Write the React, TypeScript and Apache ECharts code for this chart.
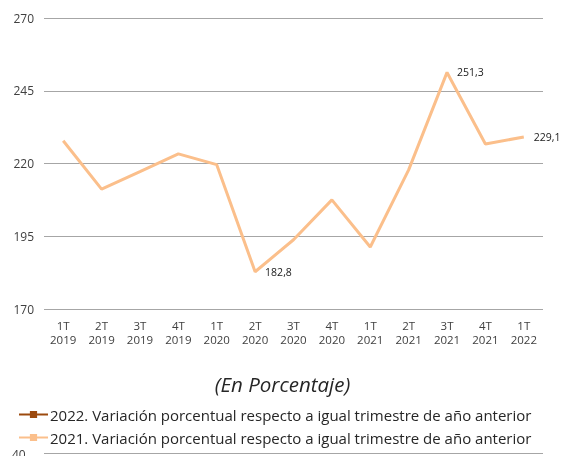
import React, { useEffect, useRef } from "react";
import * as echarts from "echarts";

const categories = [
  "1T\n2019", "2T\n2019", "3T\n2019", "4T\n2019",
  "1T\n2020", "2T\n2020", "3T\n2020", "4T\n2020",
  "1T\n2021", "2T\n2021", "3T\n2021", "4T\n2021",
  "1T\n2022",
];
const values2021 = [227.8, 211.2, 217.2, 223.3, 219.6, 182.8, 193.8, 207.5, 191.3, 217.8, 251.3, 226.7, 229.1];
const values2022: number[] = [];
const labeledIndexes = [5, 10, 12];
const seriesNames = [
  "2022. Variación porcentual respecto a igual trimestre de año anterior",
  "2021. Variación porcentual respecto a igual trimestre de año anterior",
];
const subtitle = "(En Porcentaje)";
const nextChartTick = "40";

export default function App() {
  const ref = useRef<HTMLDivElement>(null);
  useEffect(() => {
    if (!ref.current) return;
    const chart = echarts.init(ref.current, undefined, { renderer: "svg" });
    const data2021 = values2021.map((v, i) => ({
      value: v,
      symbolSize: 0,
      label: {
        show: labeledIndexes.includes(i),
        position: "right",
        distance: 10,
        formatter: (p: any) => p.value.toFixed(1).replace(".", ","),
        fontFamily: "Open Sans",
        fontSize: 10.5,
        color: "#1a1a1a",
      },
    }));
    chart.setOption({
      animation: false,
      grid: { left: 44, right: 22, top: 18, bottom: 147, containLabel: false },
      xAxis: {
        type: "category",
        data: categories,
        boundaryGap: true,
        axisLine: { show: false },
        axisTick: { show: false },
        axisLabel: {
          margin: 9,
          fontFamily: "Open Sans",
          fontSize: 11.5,
          lineHeight: 14,
          color: "#404040",
          interval: 0,
        },
      },
      yAxis: {
        type: "value",
        min: 170,
        max: 270,
        interval: 25,
        axisLine: { show: false },
        axisTick: { show: false },
        splitLine: { lineStyle: { color: "#a6a6a6", width: 1 } },
        axisLabel: {
          margin: 10,
          fontFamily: "Open Sans",
          fontSize: 12,
          color: "#404040",
        },
      },
      title: {
        text: subtitle,
        left: "center",
        top: 369,
        textStyle: {
          fontFamily: "Open Sans",
          fontStyle: "italic",
          fontWeight: "normal",
          fontSize: 20.5,
          color: "#262626",
        },
      },
      legend: {
        orient: "vertical",
        left: 18,
        top: 406,
        padding: 0,
        itemGap: 6,
        itemWidth: 29,
        itemHeight: 9,
        textStyle: {
          fontFamily: "Open Sans",
          fontSize: 15,
          lineHeight: 17,
          color: "#262626",
          padding: [0, 0, 0, -3],
        },
        data: seriesNames,
      },
      graphic: [
        {
          type: "text",
          left: 12,
          top: 448,
          style: { text: nextChartTick, fontFamily: "Open Sans", fontSize: 12, fill: "#404040" },
        },
        {
          type: "line",
          shape: { x1: 44, y1: 453.5, x2: 543, y2: 453.5 },
          style: { stroke: "#a6a6a6", lineWidth: 1 },
        },
      ],
      series: [
        {
          name: seriesNames[0],
          type: "line",
          data: values2022,
          symbol: "rect",
          symbolSize: 7,
          lineStyle: { color: "#9c4a0e", width: 3 },
          itemStyle: { color: "#9c4a0e" },
        },
        {
          name: seriesNames[1],
          type: "line",
          data: data2021,
          symbol: "rect",
          symbolSize: 7,
          showSymbol: true,
          lineStyle: { color: "#fbbf8b", width: 3 },
          itemStyle: { color: "#fbbf8b" },
        },
      ],
    });
    return () => chart.dispose();
  }, []);
  return (
    <div
      ref={ref}
      style={{ position: "fixed", left: 0, top: 0, width: 565, height: 456 }}
    />
  );
}
